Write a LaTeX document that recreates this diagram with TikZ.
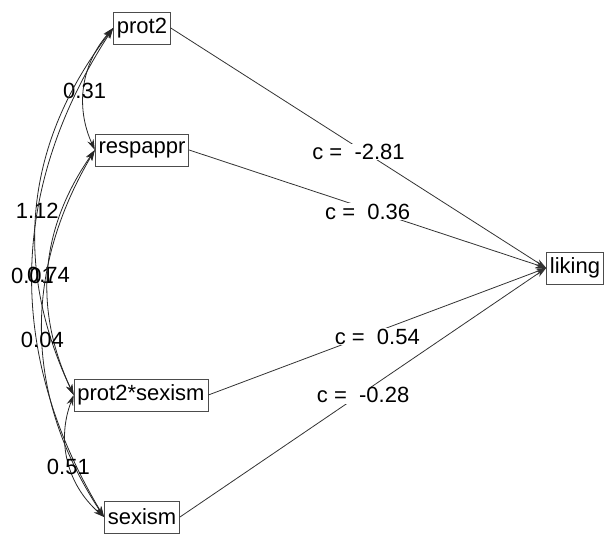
\documentclass[tikz,border=0pt]{standalone}
\usepackage{fontspec}
\setmainfont{Liberation Sans}
\usepackage{tikz}
\usetikzlibrary{arrows.meta}
\tikzset{
  semnode/.style = {align=center, text centered,
    font=\fontsize{16.5}{18}\selectfont},
  sem_v/.style = {semnode, rectangle, draw=black!70, line width=0.6pt,
    inner xsep=2.5pt, inner ysep=0pt, minimum height=24pt},% variable observee
  sem_p/.style = {semnode, fill=white, inner sep=0.5pt},% coefficient c
  sem_c/.style = {semnode, inner sep=0pt, yshift=-4pt},% covariance
  sem_e/.style = {->, draw=black!80, line width=0.6pt},% regression
  sem_r/.style = {<->, draw=black!85, line width=0.6pt}% arc de covariance
}

\begin{document}
\begin{tikzpicture}[>={Stealth[length=8pt,width=5pt]}, x=0.75pt, y=-0.75pt]
    \useasboundingbox (0,0) rectangle (605,537);
    \node [sem_v] (prot2) at (142,28) {prot2};
    \node [sem_v] (respappr) at (142,150) {respappr};
    \node [sem_v] (prot2sexism) at (141,395) {prot2*sexism};
    \node [sem_v] (sexism) at (142,517) {sexism};
    \node [sem_v] (liking) at (575,268) {liking};

    \draw [sem_e] (prot2.east) -- node [sem_p, yshift=-3pt] {c =\ \ -2.81} (liking.west);
    \draw [sem_e] (respappr.east) -- node [sem_p, yshift=-2pt] {c =\ \ 0.36} (liking.west);
    \draw [sem_e] (prot2sexism.east) -- node [sem_p, yshift=-4pt] {c =\ \ 0.54} (liking.west);
    \draw [sem_e] (sexism.east) -- node [sem_p, yshift=-2pt] {c =\ \ -0.28} (liking.west);

    \draw [sem_r] (prot2.west) to [bend right=33] node [sem_c] {0.31} (respappr.west);
    \draw [sem_r] (prot2.west) to [bend right=31.5] node [sem_c] {1.12} (prot2sexism.west);
    \draw [sem_r] (prot2.west) to [bend right=32] node [sem_c] {0.01} (sexism.west);
    \draw [sem_r] (respappr.west) to [bend right=30] node [sem_c] {0.74} (prot2sexism.west);
    \draw [sem_r] (respappr.west) to [bend right=32] node [sem_c] {0.04} (sexism.west);
    \draw [sem_r] (prot2sexism.west) to [bend right=35] node [sem_c] {0.51} (sexism.west);
\end{tikzpicture}
\end{document}
